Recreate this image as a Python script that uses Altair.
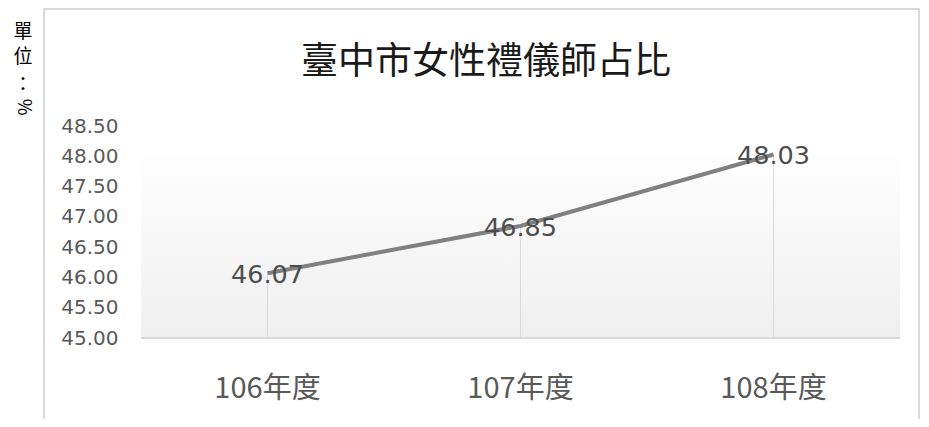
import altair as alt
import pandas as pd

years = ["106年度", "107年度", "108年度"]
values = [46.07, 46.85, 48.03]
title_text = "臺中市女性禮儀師占比"
unit_chars = ["單", "位", "："]
unit_symbol = "%"
y_ticks = [45.0, 45.5, 46.0, 46.5, 47.0, 47.5, 48.0, 48.5]

df = pd.DataFrame({"year": years, "value": values})

W, H = 759, 212
x_enc = alt.X("year:N", sort=years, scale=alt.Scale(paddingInner=0, paddingOuter=0),
              axis=alt.Axis(title=None, domain=False, ticks=False, labelAngle=0,
                            labelFontSize=29, labelFont="Noto Sans CJK TC",
                            labelColor="#595959", labelPadding=50,
                            labelBaseline="middle"))
y_scale = alt.Scale(domain=[45, 48.5], nice=False, zero=False)
y_enc = alt.Y("value:Q", scale=y_scale,
              axis=alt.Axis(title=None, domain=False, ticks=False, grid=False,
                            values=y_ticks, format=".2f", labelFontSize=20,
                            labelFont="DejaVu Sans", labelColor="#595959",
                            labelPadding=23))

base = alt.Chart(df)

grad = alt.Gradient(gradient="linear", x1=0, x2=0, y1=0, y2=1,
                    stops=[alt.GradientStop(color="#fefefe", offset=0),
                           alt.GradientStop(color="#efefef", offset=1)])
one = pd.DataFrame({"a": [0]})
bg = alt.Chart(one).mark_rect(fill=grad, strokeWidth=0).encode(
    x=alt.value(0), x2=alt.value(W), y=alt.value(27), y2=alt.value(H))

baseline = alt.Chart(one).mark_rule(color="#d9d9d9", strokeWidth=2).encode(
    x=alt.value(0), x2=alt.value(W), y=alt.value(H))

drops = base.mark_rule(color="#d9d9d9", strokeWidth=1).encode(
    x=x_enc, y=y_enc, y2=alt.datum(45))

line = base.mark_line(color="#808080", strokeWidth=4).encode(x=x_enc, y=y_enc)

labels = base.mark_text(fontSize=25.5, font="DejaVu Sans", color="#4d4d4d",
                        baseline="middle", dy=2).encode(
    x=x_enc, y=y_enc, text=alt.Text("value:Q", format=".2f"))

title = alt.Chart(pd.DataFrame({"t": [title_text]})).mark_text(
    fontSize=37, font="Noto Sans CJK TC", color="#1a1a1a", baseline="middle").encode(
    x=alt.value(345), y=alt.value(-63), text="t:N")

unit_df = pd.DataFrame({"c": unit_chars, "yy": [-94, -69, -41]})
unit = alt.Chart(unit_df).mark_text(fontSize=19, font="Noto Sans CJK TC",
                                    color="#000000", baseline="middle").encode(
    x=alt.value(-118), y=alt.Y("yy:Q", scale=None), text="c:N")
unit_pct = alt.Chart(pd.DataFrame({"c": [unit_symbol]})).mark_text(
    fontSize=18, font="Noto Sans CJK TC", color="#000000", baseline="middle",
    align="center", angle=90).encode(x=alt.value(-118), y=alt.value(-19), text="c:N")

frame_left = alt.Chart(one).mark_rule(color="#d9d9d9", strokeWidth=2).encode(
    x=alt.value(-97), y=alt.value(-117), y2=alt.value(320))
frame_top = alt.Chart(one).mark_rule(color="#d9d9d9", strokeWidth=2).encode(
    x=alt.value(-98), x2=alt.value(779), y=alt.value(-117))
frame_right = alt.Chart(one).mark_rule(color="#d9d9d9", strokeWidth=2).encode(
    x=alt.value(778), y=alt.value(-117), y2=alt.value(320))

chart = alt.layer(bg, baseline, drops, line, labels, title, unit, unit_pct,
                  frame_left, frame_top, frame_right).properties(
    width=W, height=H,
    background="white",
    autosize=alt.AutoSizeParams(type="none"),
    padding={"left": 133, "top": 118, "right": 21, "bottom": 81},
).configure_view(strokeWidth=0, stroke="transparent")

chart.save("out.html", embed_options={"renderer": "svg", "actions": False})
